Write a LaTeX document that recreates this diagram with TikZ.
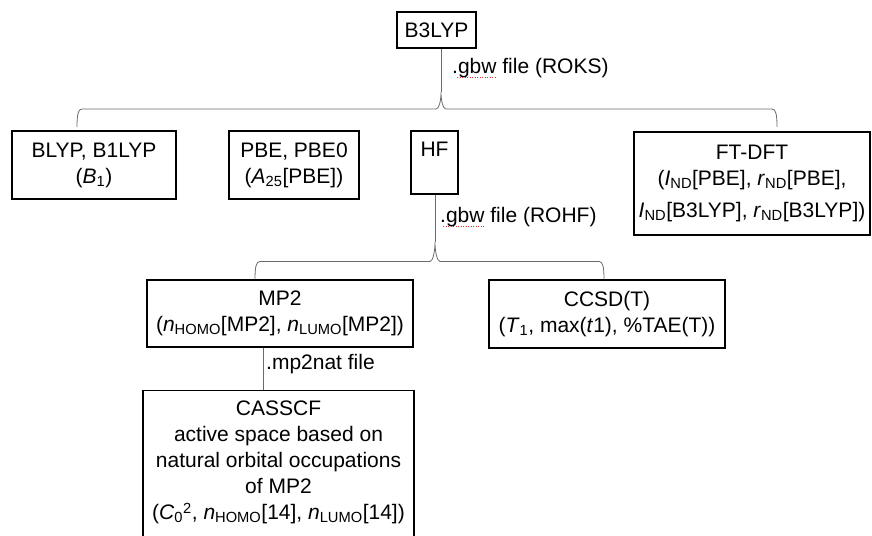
\documentclass[tikz,border=0pt]{standalone}
\usepackage{fontspec}
\setmainfont{Liberation Sans}
\usetikzlibrary{positioning,calc}
\definecolor{linkgray}{HTML}{6A6A6A}
\definecolor{squiggle}{HTML}{E0302A}

\newcommand{\bracelink}[3]{%
  \coordinate (lvl) at ($(#1)+(0,18)$);
  \draw[link] (#1) .. controls +(0,12) and +(-4,0) .. ([xshift=5pt]#1 |- lvl)
    -- ([xshift=-5pt]#2 |- lvl) .. controls +(3,0) and +(0,-9) .. (#2)
    .. controls +(0,-9) and +(-3,0) .. ([xshift=5pt]#2 |- lvl)
    -- ([xshift=-5pt]#3 |- lvl) .. controls +(4,0) and +(0,12) .. (#3);}

\begin{document}
\begin{tikzpicture}[x=1pt, y=1pt,
  box/.style={draw=black, line width=1.1pt, align=center, inner sep=0pt,
              font=\fontsize{21}{26}\selectfont},
  lbl/.style={font=\fontsize{21}{26}\selectfont, inner sep=0pt, anchor=base west},
  link/.style={linkgray, line width=0.8pt},
  spell/.style={squiggle, line width=1pt, dash pattern=on 1.2pt off 1.3pt},
]
\useasboundingbox (0,0) rectangle (872,535);
\clip (0,0) rectangle (872,535);

\node[box, minimum width=79pt, minimum height=36pt] (b3lyp) at (436.5,505) {B3LYP};

\node[box, minimum width=164pt, minimum height=68pt] (blyp) at (94,370)
  {BLYP, B1LYP\\(\textit{B}\textsubscript{1})};
\node[box, minimum width=130pt, minimum height=68pt] (pbe) at (294,370)
  {PBE, PBE0\\(\textit{A}\textsubscript{25}[PBE])};
\node[box, minimum width=47pt, minimum height=63pt, text height=15pt, text depth=26pt]
  (hf) at (434.5,372.5) {HF};
\node[box, minimum width=236pt, minimum height=103pt] (ftdft) at (752,351.5)
  {FT-DFT\\(\textit{I}\textsubscript{ND}[PBE], \textit{r}\textsubscript{ND}[PBE],\\[6pt]
   \textit{I}\textsubscript{ND}[B3LYP], \textit{r}\textsubscript{ND}[B3LYP])};

\node[box, minimum width=266pt, minimum height=67pt] (mp2) at (280,221.5)
  {MP2\\(\textit{n}\textsubscript{HOMO}[MP2], \textit{n}\textsubscript{LUMO}[MP2])};
\node[box, minimum width=236pt, minimum height=68pt] (ccsd) at (607,221)
  {CCSD(T)\\(\textit{T}\textsubscript{1}, max(\textit{t}1), \%TAE(T))};

\node[box, minimum width=271pt, inner ysep=10pt, anchor=north] (casscf) at (278.5,145)
  {CASSCF\\active space based on\\natural orbital occupations\\of MP2\\
   (\textit{C}\textsubscript{0}\raisebox{-1.5pt}{\textsuperscript{2}}, \textit{n}\textsubscript{HOMO}[14],
   \textit{n}\textsubscript{LUMO}[14])\rule[-14pt]{0pt}{0pt}};

\node[lbl] (gbwroks) at (452,461) {.gbw file (ROKS)};
\node[lbl] (gbwrohf) at (440,312) {.gbw file (ROHF)};
\node[lbl] (mp2nat) at (266,165) {.mp2nat file};
\draw[spell] ([shift={(5,-3.5)}]gbwroks.base west) -- ([shift={(43,-3.5)}]gbwroks.base west);
\draw[spell] ([shift={(3,-3.5)}]gbwrohf.base west) -- ([shift={(45,-3.5)}]gbwrohf.base west);

\coordinate (t1) at (441,443);
\coordinate (e1l) at (77,408);
\coordinate (e1r) at (777,408);
\draw[link] (b3lyp.south -| t1) -- (t1);
\bracelink{e1l}{t1}{e1r}

\coordinate (t2) at (435,293);
\coordinate (e2l) at (mp2.north -| 255,0);
\coordinate (e2r) at (ccsd.north -| 604,0);
\draw[link] (hf.south -| t2) -- (t2);
\bracelink{e2l}{t2}{e2r}

\coordinate (m1) at (263,0);
\draw[link] (mp2.south -| m1) -- (casscf.north -| m1);
\end{tikzpicture}
\end{document}
